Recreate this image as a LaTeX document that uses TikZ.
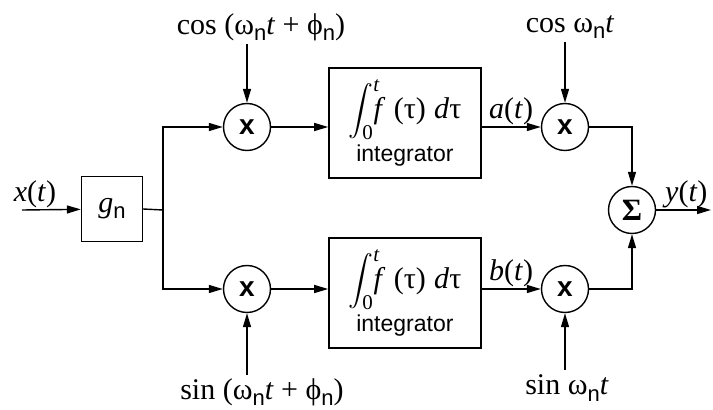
\documentclass[tikz,border=0pt]{standalone}
\usepackage{fix-cm}
\usepackage{amsmath}
\usepackage{fontspec}
\setmainfont{Liberation Serif}
\setsansfont{Liberation Sans}
\usetikzlibrary{arrows.meta, positioning}
\newcommand{\nsub}{\raisebox{-6pt}{\fontsize{22}{22}\selectfont\sffamily n}}
\newcommand{\intlim}[1]{\mbox{\fontsize{21}{21}\selectfont #1}}
\newcommand{\intexpr}{{\fontsize{28}{28}\selectfont$\displaystyle\int_{\intlim{0}}^{\intlim{\itshape t}}$}\hspace{-6pt}\textit{f}\;(τ)\;\textit{d}τ}

\begin{document}
\begin{tikzpicture}[
    x=1pt, y=1pt,
    every node/.style={font=\fontsize{30}{32}\selectfont},
    blk/.style={draw, line width=1.4pt, inner sep=0pt},
    intbox/.style={blk, minimum width=152pt, minimum height=110pt, align=center},
    mult/.style={draw, circle, line width=1.4pt, minimum size=47pt, inner sep=0pt,
                 font=\fontsize{28}{28}\selectfont\sffamily\bfseries},
    lbl/.style={text height=24pt, text depth=8pt, inner sep=1pt, anchor=base},
    arrowstyle/.style={-{Triangle[length=14pt,width=8pt]}, line width=1.4pt},
    wire/.style={line width=1.4pt}
  ]
  \useasboundingbox (0,0) rectangle (713,410);

  % gain and split
  \node[blk, minimum width=61pt, minimum height=65pt] (g) at (112,201) {\textit{g}\nsub};
  \coordinate (in) at (22,200);
  \coordinate (split) at (163,200);

  % first stage multipliers
  \node[mult] (m1) at (247,283) {x};
  \node[mult] (m2) at (247,121) {x};

  % integrators
  \node[intbox, right=57pt of m1, yshift=4pt] (i1) {\intexpr\\[4pt]{\sffamily\fontsize{23}{24}\selectfont integrator}};
  \node[intbox, right=57pt of m2, yshift=-4pt] (i2) {\intexpr\\[4pt]{\sffamily\fontsize{23}{24}\selectfont integrator}};

  % second stage multipliers and sum
  \node[mult] (m3) at (565,283) {x};
  \node[mult] (m4) at (565,121) {x};
  \node[mult, font=\fontsize{31}{31}\selectfont\bfseries] (sum) at (632,200) {Σ};
  \coordinate (out) at (711,200);

  % carriers
  \node[lbl] (cph) at (261,375) {cos (ω\nsub\textit{t} + ϕ\nsub)};
  \node[lbl] (cw) at (570,377) {cos ω\nsub\textit{t}};
  \node[lbl] (sph) at (262,10) {sin (ω\nsub\textit{t} + ϕ\nsub)};
  \node[lbl] (sw) at (567,15) {sin ω\nsub\textit{t}};

  \draw[arrowstyle] (in) -- node[above, pos=0.22, inner sep=1pt] {\textit{x}(\textit{t})} (g);
  \draw[wire] (g.east) -- (split);
  \draw[arrowstyle] (split) |- (m1);
  \draw[arrowstyle] (split) |- (m2);
  \draw[arrowstyle] (cph.south -| m1) -- (m1);
  \draw[arrowstyle] (sph.north -| m2) -- (m2);
  \draw[arrowstyle] (m1) -- (m1 -| i1.west);
  \draw[arrowstyle] (m2) -- (m2 -| i2.west);
  \draw[arrowstyle] (m3 -| i1.east) -- node[above, inner sep=1pt] {\textit{a}(\textit{t})} (m3);
  \draw[arrowstyle] (m4 -| i2.east) -- node[above, inner sep=1pt] {\textit{b}(\textit{t})} (m4);
  \draw[arrowstyle] (cw.south -| m3) -- (m3);
  \draw[arrowstyle] (sw.north -| m4) -- (m4);
  \draw[arrowstyle] (m3) -| (sum);
  \draw[arrowstyle] (m4) -| (sum);
  \draw[arrowstyle] (sum) -- node[above, pos=0.55, inner sep=1pt] {\textit{y}(\textit{t})} (out);
\end{tikzpicture}
\end{document}
